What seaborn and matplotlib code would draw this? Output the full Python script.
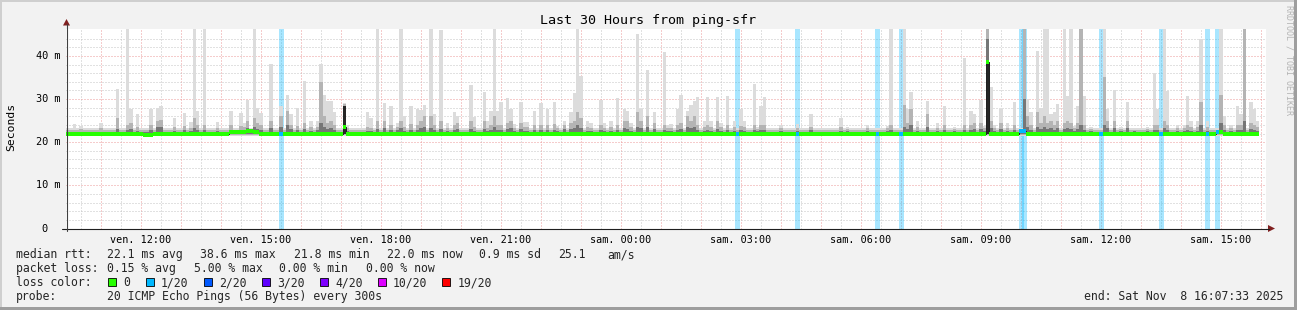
import numpy as np
import pandas as pd
import matplotlib
matplotlib.use("Agg")
import matplotlib.pyplot as plt
import seaborn as sns
from matplotlib.patches import Rectangle, Polygon
from matplotlib.lines import Line2D

# ---------------------------------------------------------------- data
start_hour = 10 + 7 / 60 + 33 / 3600     # Fri 10:07:33 (hours counted from Friday 00:00)
span_hours = 30
slot_minutes = 5
n_slots = 358                           # 5-minute RRD steps with data

# typical smoke band (ms) for quiet intervals
base_min, base_qlo, base_dark_lo = 21.4, 21.7, 21.9
base_dark, base_mid, base_max = 22.4, 22.9, 23.3
base_median = 22.0

# intervals with visible smoke above the baseline (slot index, max, mid band top, dark band top)
spike_slot = [2, 4, 10, 15, 18, 19, 21, 25, 27, 28, 32, 35, 37, 38, 39, 41, 45, 49, 52, 53,
              54, 56, 57, 58, 61, 64, 66, 67, 69, 71, 73, 75, 76, 77, 78, 79, 80, 83, 84, 90,
              91, 93, 95, 97, 99, 100, 101, 103, 105, 106, 107, 109, 110, 112, 114, 116, 117, 121, 122, 125,
              126, 127, 128, 129, 130, 132, 133, 134, 136, 137, 138, 140, 142, 144, 146, 147, 149, 151, 152, 153,
              154, 156, 157, 160, 161, 163, 165, 167, 168, 169, 171, 172, 174, 176, 179, 180, 181, 183, 184, 186,
              187, 188, 189, 191, 192, 193, 195, 196, 198, 200, 202, 203, 206, 207, 208, 209, 214, 219, 223, 232,
              234, 240, 246, 247, 251, 252, 253, 255, 258, 261, 263, 266, 269, 271, 272, 274, 275, 276, 277, 278,
              280, 282, 284, 287, 288, 289, 291, 292, 293, 294, 295, 296, 297, 299, 300, 301, 302, 303, 304, 305,
              307, 311, 312, 314, 316, 318, 320, 324, 326, 327, 329, 330, 333, 335, 336, 337, 339, 340, 342, 346,
              347, 349, 351, 352, 353, 355, 356, 357]
spike_max = [24.2, 23.8, 24.5, 32.4, 46.5, 27.7, 26.6, 27.8, 27.9, 28.3, 25.5, 26.8, 24.7, 46.5, 27.3, 46.5, 24.6, 27.3, 26.8, 24.5,
             29.7, 46.5, 27.9, 26.7, 38.1, 28.5, 30.9, 26.6, 27.9, 34.1, 24.8, 25.0, 38.2, 31.0, 29.5, 29.5, 27.0, 29.0, 24.0, 26.9,
             25.5, 46.5, 29.0, 28.3, 24.5, 46.5, 26.0, 28.5, 27.6, 27.4, 28.6, 46.5, 26.5, 46.0, 24.5, 27.0, 26.0, 33.3, 25.9, 31.6,
             24.8, 27.2, 46.5, 27.2, 29.4, 30.3, 27.6, 24.2, 29.4, 24.7, 24.6, 27.2, 29.0, 27.6, 29.4, 23.8, 25.0, 27.0, 31.4, 46.5,
             35.3, 25.0, 24.5, 29.7, 24.4, 24.8, 30.3, 27.6, 27.2, 24.5, 45.1, 27.6, 36.7, 27.0, 40.8, 24.0, 24.3, 27.6, 31.0, 27.3,
             28.6, 29.5, 30.5, 24.8, 30.5, 25.0, 30.5, 24.5, 30.7, 24.8, 27.8, 25.0, 33.6, 23.5, 28.3, 30.5, 24.0, 24.2, 26.6, 25.5,
             23.5, 24.0, 23.8, 46.5, 46.5, 27.8, 31.6, 24.8, 29.6, 24.5, 28.3, 23.5, 39.5, 27.2, 26.5, 29.8, 23.8, 46.5, 32.8, 24.0,
             27.8, 24.5, 29.4, 46.5, 30.0, 27.0, 41.2, 28.0, 46.5, 46.5, 26.5, 27.0, 28.8, 46.5, 30.8, 46.5, 23.8, 28.4, 46.5, 30.8,
             23.5, 46.5, 27.8, 32.2, 23.5, 29.4, 23.2, 23.5, 36.1, 27.8, 46.5, 31.8, 24.0, 24.0, 30.8, 25.0, 25.0, 44.0, 25.0, 46.5,
             26.0, 24.0, 28.3, 26.5, 46.5, 29.4, 27.8, 25.0]
spike_mid = [22.8, 23.0, 23.2, 25.5, 24.0, 24.4, 23.5, 24.0, 25.0, 25.2, 23.5, 23.8, 23.4, 25.5, 24.0, 24.0, 23.2, 24.0, 23.8, 23.5,
             25.0, 25.5, 24.5, 24.0, 25.0, 26.0, 27.3, 24.0, 23.8, 24.5, 23.5, 23.6, 34.0, 26.0, 24.5, 25.0, 24.0, 28.9, 23.2, 23.6,
             23.4, 25.0, 25.0, 24.0, 23.5, 25.0, 23.6, 24.2, 24.0, 25.0, 26.0, 26.0, 24.0, 25.0, 23.4, 24.0, 24.5, 25.0, 23.6, 25.0,
             23.4, 24.0, 26.0, 24.0, 24.0, 24.5, 25.0, 23.4, 24.5, 23.5, 23.5, 24.0, 24.0, 24.0, 24.2, 23.2, 24.0, 24.5, 25.0, 27.0,
             25.5, 23.6, 23.4, 24.0, 23.4, 23.5, 24.0, 25.0, 25.0, 23.5, 27.0, 25.0, 26.0, 24.5, 24.0, 23.3, 23.4, 24.0, 24.5, 26.0,
             25.0, 26.0, 24.0, 23.5, 24.0, 23.6, 25.0, 23.5, 24.0, 23.5, 23.8, 23.5, 24.0, 23.0, 24.0, 24.0, 23.2, 23.2, 23.6, 23.5,
             23.0, 23.2, 23.2, 24.0, 28.7, 24.5, 27.8, 23.5, 26.5, 23.4, 24.0, 23.0, 24.0, 24.0, 24.5, 24.5, 23.2, 46.5, 25.0, 23.4,
             24.5, 23.4, 24.0, 46.5, 26.0, 24.0, 27.0, 24.5, 26.0, 24.5, 25.0, 24.0, 25.0, 24.5, 25.0, 24.5, 23.2, 24.5, 46.5, 24.0,
             23.0, 35.0, 25.0, 25.0, 23.0, 25.0, 22.9, 23.0, 24.0, 24.0, 25.0, 24.0, 23.3, 23.3, 24.0, 23.5, 23.5, 29.4, 23.5, 31.0,
             24.0, 23.3, 24.0, 24.0, 46.5, 24.5, 24.0, 23.5]
spike_dark = [22.4, 22.4, 22.4, 23.0, 22.8, 23.0, 22.6, 22.8, 23.5, 23.5, 22.6, 22.8, 22.6, 23.2, 22.8, 22.8, 22.5, 22.7, 22.6, 22.8,
              23.4, 23.5, 23.0, 22.8, 23.2, 23.5, 24.0, 23.0, 22.8, 23.0, 22.7, 22.8, 24.5, 23.5, 23.0, 23.2, 22.8, 28.5, 22.6, 22.7,
              22.6, 23.0, 23.2, 22.8, 22.8, 23.2, 22.7, 22.8, 22.8, 23.2, 23.5, 23.4, 22.8, 23.0, 22.6, 22.8, 23.0, 23.0, 22.7, 23.0,
              22.6, 22.8, 23.5, 22.8, 22.8, 23.0, 23.2, 22.6, 23.0, 22.7, 22.7, 22.8, 22.8, 22.8, 22.8, 22.6, 23.0, 23.0, 23.2, 24.0,
              23.2, 22.7, 22.6, 22.8, 22.6, 22.7, 22.8, 23.2, 23.0, 22.7, 23.6, 23.2, 23.5, 23.0, 22.8, 22.6, 22.6, 22.8, 23.0, 23.5,
              23.2, 23.5, 22.8, 22.7, 22.8, 22.7, 23.0, 22.7, 22.8, 22.7, 22.8, 22.7, 22.8, 22.5, 22.8, 22.8, 22.6, 22.6, 22.8, 22.7,
              22.5, 22.6, 22.6, 22.8, 23.6, 23.0, 24.0, 22.7, 23.5, 22.6, 22.8, 22.5, 22.8, 22.8, 23.0, 23.0, 22.6, 44.0, 23.2, 22.7,
              23.0, 22.6, 22.8, 30.0, 23.5, 22.8, 23.5, 23.0, 23.5, 23.0, 23.2, 22.8, 23.2, 23.0, 23.2, 23.0, 22.6, 23.0, 24.0, 22.8,
              22.5, 24.0, 23.2, 23.2, 22.5, 23.2, 22.5, 22.5, 22.8, 22.8, 23.2, 22.8, 22.6, 22.6, 22.8, 22.7, 22.7, 24.0, 22.7, 24.5,
              22.8, 22.6, 22.8, 22.8, 25.0, 23.0, 22.8, 22.7]

# intervals where the inner pings stay far above the median (near-black core)
core_slot = [83, 276]
core_top = [28.5, 38.6]

# median rtt where it departs from the baseline
median_slot = [23, 24, 25, 49, 50, 51, 52, 53, 54, 55, 56, 57, 83, 276, 286, 287, 345, 346]
median_val = [21.7, 21.7, 21.7, 22.3, 22.3, 22.3, 22.3, 22.4, 22.5, 22.6, 22.4, 22.3, 23.6, 38.6, 22.5, 22.5, 22.4, 22.4]

# intervals with 1/20 packet loss
loss_slot = [64, 201, 219, 243, 250, 286, 287, 310, 328, 342, 345]

loss_labels = ["0", "1/20", "2/20", "3/20", "4/20", "10/20", "19/20"]
loss_colors = ["#26ff00", "#00b8ff", "#0059ff", "#5e00ff", "#7e00ff", "#dd00ff", "#ff0000"]

y_tick_values = [0, 10, 20, 30, 40]
y_tick_labels = ["0", "10 m", "20 m", "30 m", "40 m"]
x_label_hours = [12, 15, 18, 21, 24, 27, 30, 33, 36, 39]
x_tick_labels = ["ven. 12:00", "ven. 15:00", "ven. 18:00", "ven. 21:00", "sam. 00:00",
                 "sam. 03:00", "sam. 06:00", "sam. 09:00", "sam. 12:00", "sam. 15:00"]

title = "Last 30 Hours from ping-sfr"
rtt_parts = ["median rtt:", "22.1 ms avg", "38.6 ms max", "21.8 ms min", "22.0 ms now", "0.9 ms sd", "25.1", "am/s"]
loss_parts = ["packet loss:", "0.15 % avg", "5.00 % max", "0.00 % min", "0.00 % now"]
probe_head = "probe:"
probe_text = "20 ICMP Echo Pings (56 Bytes) every 300s"
end_text = "end: Sat Nov  8 16:07:33 2025"

# ---------------------------------------------------------------- build table
df = pd.DataFrame({"slot": np.arange(n_slots)})
df["t"] = start_hour + df["slot"] * slot_minutes / 60
df["lo"] = base_min
df["qlo"] = base_qlo
df["dlo"] = base_dark_lo
df["dark"] = base_dark
df["mid"] = base_mid
df["hi"] = base_max
df["median"] = base_median
df["core"] = np.nan
df.loc[spike_slot, "hi"] = spike_max
df.loc[spike_slot, "mid"] = spike_mid
df.loc[spike_slot, "dark"] = spike_dark
df.loc[core_slot, "core"] = core_top
df.loc[median_slot, "median"] = median_val
df["loss"] = 0
df.loc[loss_slot, "loss"] = 1
step_w = slot_minutes / 60

# ---------------------------------------------------------------- figure
sns.set_theme(style="white")
plt.rcParams["font.family"] = ["DejaVu Sans Mono"]
plt.rcParams["lines.scale_dashes"] = True

W, H = 1297, 310
fig = plt.figure(figsize=(W / 100, H / 100), dpi=100)
fig.patch.set_facecolor("#f2f2f2")


def fx(px):
    return px / W


def fy(py):
    return 1 - py / H


y_top = 46.35
ax = fig.add_axes([fx(66), fy(228.5), 1200 / W, 200 / H])
ax.set_facecolor("white")
ax.set_xlim(start_hour, start_hour + span_hours)
ax.set_ylim(0, y_top)

# loss background bands
lossdf = df[df["loss"] > 0]
ax.bar(lossdf["t"] + step_w / 2, y_top, width=step_w * 1.5, bottom=0,
       color=loss_colors[1], alpha=0.34, linewidth=0, zorder=2)

# smoke layers
ax.bar(df["t"], df["hi"] - df["lo"], bottom=df["lo"], width=step_w * 1.02, align="edge",
       color="#dcdcdc", linewidth=0, zorder=3)
ax.bar(df["t"], df["mid"] - df["qlo"], bottom=df["qlo"], width=step_w * 1.02, align="edge",
       color="#b4b4b4", linewidth=0, zorder=3.1)
ax.bar(df["t"], df["dark"] - df["dlo"], bottom=df["dlo"], width=step_w * 1.02, align="edge",
       color="#767676", linewidth=0, zorder=3.2)
coredf = df.dropna(subset=["core"])
ax.bar(coredf["t"], coredf["core"] - coredf["dlo"], bottom=coredf["dlo"], width=step_w * 1.02,
       align="edge", color="#262626", linewidth=0, zorder=3.3)

# median line (dark) and loss-coloured median band
sns.lineplot(x=df["t"], y=df["median"], drawstyle="steps-post", color="#202020",
             linewidth=0.72, ax=ax, zorder=4, estimator=None)
band_colors = [loss_colors[1] if l else loss_colors[0] for l in df["loss"]]
ax.bar(df["t"], 0.9, bottom=df["median"] - 0.45, width=step_w * 1.02, align="edge",
       color=band_colors, linewidth=0, zorder=5)
ax.set_xlabel("")
ax.set_ylabel("")

# grid / ticks
hours = np.arange(11, 41)
ax.set_xticks(hours)
ax.set_xticklabels([x_tick_labels[x_label_hours.index(h)] if h in x_label_hours else "" for h in hours])
ax.set_xticks(np.arange(10.5, 40.5, 1.0), minor=True)
ax.set_yticks(y_tick_values)
ax.set_yticks([v for v in range(2, 46, 2) if v % 10], minor=True)
ax.grid(which="major", color="#ec9b9b", linewidth=0.72, linestyle=(0, (1, 2)))
ax.grid(which="minor", color="#c4c4c4", linewidth=0.72, linestyle=(0, (1, 2)))
ax.set_axisbelow(True)
ax.tick_params(axis="x", which="major", direction="out", length=2.2, width=0.72,
               color="#e06060", labelsize=7.3, pad=2.2, labelcolor="black")
ax.tick_params(axis="x", which="minor", direction="out", length=1.5, width=0.72, color="#b0b0b0")
ax.tick_params(axis="y", which="major", direction="out", length=1.5, width=0.72,
               color="#e06060", labelleft=False)
ax.tick_params(axis="y", which="minor", direction="out", length=1.5, width=0.72,
               color="#b0b0b0", labelleft=False)
for s in ax.spines.values():
    s.set_visible(False)

# y tick labels (rrdtool style)
for v, lab in zip(y_tick_values, y_tick_labels):
    xr = 61 if " " in lab else 48
    ax.text((xr - 66) / 1200, v, lab, transform=ax.get_yaxis_transform(),
            ha="right", va="center", fontsize=7.4, color="black")

# axes lines and arrows
fig.add_artist(Line2D([fx(62), fx(1269)], [fy(228.5), fy(228.5)], color="#1f1f1f", linewidth=0.8))
fig.add_artist(Line2D([fx(66.5), fx(66.5)], [fy(231), fy(24)], color="#404040", linewidth=0.8))
fig.add_artist(Polygon([(fx(1268), fy(225)), (fx(1268), fy(232)), (fx(1275), fy(228.5))],
                       closed=True, transform=fig.transFigure, color="#801f1f", linewidth=0))
fig.add_artist(Polygon([(fx(63), fy(25.5)), (fx(70), fy(25.5)), (fx(66.5), fy(19))],
                       closed=True, transform=fig.transFigure, color="#801f1f", linewidth=0))

# frame shading
fig.add_artist(Rectangle((0, fy(2)), 1, 2 / H, transform=fig.transFigure, color="#cfcfcf", linewidth=0))
fig.add_artist(Rectangle((0, 0), 2 / W, 1, transform=fig.transFigure, color="#cfcfcf", linewidth=0))
fig.add_artist(Rectangle((0, 0), 1, 3 / H, transform=fig.transFigure, color="#9e9e9e", linewidth=0))
fig.add_artist(Rectangle((fx(1294), 0), 3 / W, 1, transform=fig.transFigure, color="#9e9e9e", linewidth=0))

# texts
fig.text(fx(648), fy(24), title, ha="center", va="baseline", fontsize=9.6, color="black")
fig.text(fx(11), fy(127), "Seconds", ha="center", va="center", rotation=90, fontsize=8.2, color="black")
fig.text(fx(1288.5), fy(60), "RRDTOOL / TOBI OETIKER", ha="center", va="center", rotation=270,
         fontsize=6.0, color="#b4b4b4")

fs = 8.3
rtt_x = [16, 107, 200, 293.5, 386.7, 479.3, 558.3, 607.7]
for xp, part in zip(rtt_x, rtt_parts):
    fig.text(fx(xp), fy(258.2), part, ha="left", va="baseline", fontsize=fs)
loss_x = [16, 107, 193.6, 279, 365.5]
for xp, part in zip(loss_x, loss_parts):
    fig.text(fx(xp), fy(272.2), part, ha="left", va="baseline", fontsize=fs)
fig.text(fx(16), fy(286.2), "loss color:", ha="left", va="baseline", fontsize=fs)
box_x = [108, 146, 204, 262, 320, 378, 442.3]
for bx, col, lab in zip(box_x, loss_colors, loss_labels):
    fig.add_artist(Rectangle((fx(bx), fy(286.3)), 8 / W, 8 / H, transform=fig.transFigure,
                             facecolor=col, edgecolor="black", linewidth=0.6))
    fig.text(fx(bx + 15), fy(286.2), lab, ha="left", va="baseline", fontsize=fs)
fig.text(fx(16), fy(300.2), probe_head, ha="left", va="baseline", fontsize=fs)
fig.text(fx(107), fy(300.2), probe_text, ha="left", va="baseline", fontsize=fs)
fig.text(fx(1283), fy(300.2), end_text, ha="right", va="baseline", fontsize=fs)

fig.savefig("out.png", dpi=100, facecolor=fig.get_facecolor())
